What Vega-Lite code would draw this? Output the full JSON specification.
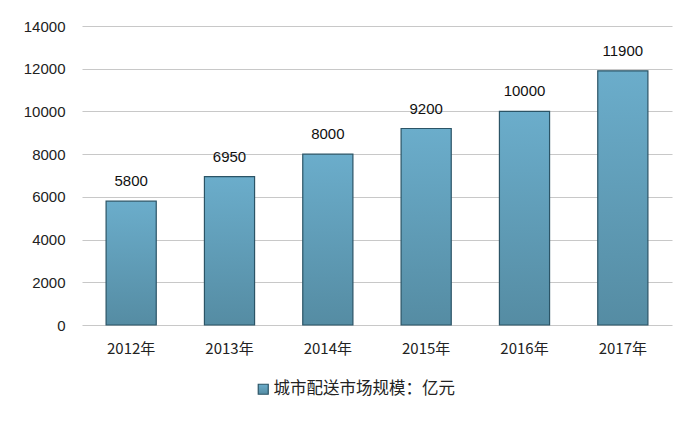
{
  "$schema": "https://vega.github.io/schema/vega-lite/v6.json",
  "autosize": "none",
  "width": 590,
  "height": 299,
  "padding": {"left": 82, "top": 26, "right": 27, "bottom": 97},
  "background": "white",
  "data": {"values": [
    {"year": "2012年", "value": 5800, "series": "城市配送市场规模：亿元"},
    {"year": "2013年", "value": 6950, "series": "城市配送市场规模：亿元"},
    {"year": "2014年", "value": 8000, "series": "城市配送市场规模：亿元"},
    {"year": "2015年", "value": 9200, "series": "城市配送市场规模：亿元"},
    {"year": "2016年", "value": 10000, "series": "城市配送市场规模：亿元"},
    {"year": "2017年", "value": 11900, "series": "城市配送市场规模：亿元"}
  ]},
  "encoding": {
    "x": {"field": "year", "type": "nominal", "sort": null,
      "scale": {"paddingInner": 0.49, "paddingOuter": 0.245},
      "axis": {"title": null, "labelAngle": 0, "ticks": false, "domain": false, "labelPadding": 16,
        "labelFont": "Noto Sans CJK SC", "labelFontSize": 15, "labelColor": "#222"}},
    "y": {"field": "value", "type": "quantitative",
      "scale": {"domain": [0, 14000]},
      "axis": {"title": null, "values": [0,2000,4000,6000,8000,10000,12000,14000],
        "labelOverlap": false, "ticks": false, "domain": false, "labelPadding": 17, "format": "d",
        "grid": true, "gridColor": "#c8c8c8", "gridWidth": 1.2,
        "labelFont": "Liberation Sans", "labelFontSize": 15, "labelColor": "#222"}}
  },
  "layer": [
    {
      "mark": {"type": "bar", "strokeWidth": 1.2,
        "fill": {"gradient": "linear", "x1": 0, "y1": 0, "x2": 0, "y2": 1,
          "stops": [{"offset": 0, "color": "#6badcb"}, {"offset": 1, "color": "#558ca3"}]}},
      "encoding": {
        "stroke": {"field": "series", "type": "nominal",
          "scale": {"range": ["#2b5466"]},
          "legend": {"title": null, "orient": "none", "legendX": 173, "legendY": 355,
            "symbolType": "square", "symbolSize": 100, "symbolFillColor": "#5b9bb8",
            "symbolStrokeWidth": 1.2, "labelFont": "Noto Sans CJK SC", "labelFontSize": 16.5,
            "labelLimit": 0, "labelColor": "#222", "labelOffset": 2}}
      }
    },
    {
      "mark": {"type": "text", "dy": -20, "font": "Liberation Sans", "fontSize": 15, "color": "#111"},
      "encoding": {"text": {"field": "value", "type": "quantitative", "format": "d"}}
    }
  ],
  "config": {"view": {"stroke": null}}
}
